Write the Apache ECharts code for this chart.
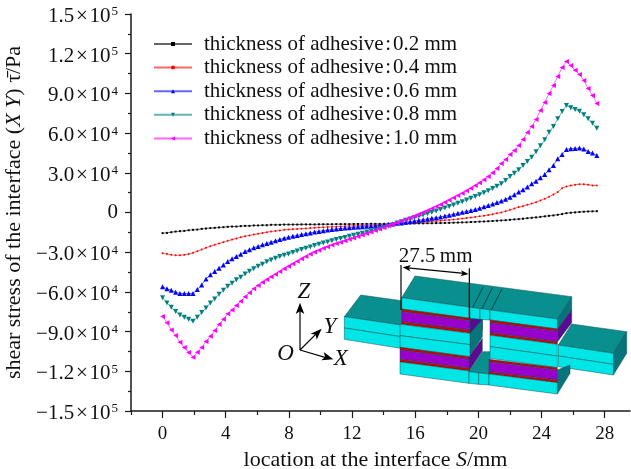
<!DOCTYPE html>
<html><head><meta charset="utf-8">
<style>html,body{margin:0;padding:0;background:#fff}#c{width:631px;height:469px}</style>
<script src="https://cdn.jsdelivr.net/npm/echarts@6/dist/echarts.min.js"></script>
</head><body><div id="c"></div>
<script>
const sampleStep = 0.275;
const t02 = [-15.6,-15.4,-14.9,-14.4,-14.1,-13.9,-13.4,-13.1,-12.9,-12.4,
 -12.1,-11.8,-11.6,-11.3,-11.1,-10.8,-10.6,-10.6,-10.3,-10.1,
 -10.1,-9.8,-9.8,-9.6,-9.6,-9.3,-9.3,-9.3,-9.1,-9.1,
 -9.1,-9.1,-9.0,-9.0,-9.0,-9.0,-8.9,-8.9,-8.9,-8.9,
 -8.8,-8.8,-8.8,-8.8,-8.7,-8.7,-8.7,-8.7,-8.6,-8.6,
 -8.6,-8.6,-8.5,-8.5,-8.5,-8.4,-8.4,-8.3,-8.3,-8.2,
 -8.2,-8.1,-8.1,-8.0,-8.0,-7.9,-7.8,-7.7,-7.6,-7.5,
 -7.4,-7.2,-7.1,-6.9,-6.8,-6.6,-6.4,-6.2,-6.0,-5.8,
 -5.5,-5.2,-5.0,-4.7,-4.3,-4.0,-3.7,-3.3,-2.9,-2.5,
 -2.2,-1.7,-1.2,-0.5,-0.2,0.1,0.4,0.6,0.8,0.9,
 1.0];
const t04 = [-30.7,-31.3,-32.0,-32.3,-32.3,-32.0,-31.3,-30.5,-29.2,-28.0,
 -26.7,-25.5,-24.4,-23.4,-22.4,-21.4,-20.4,-19.7,-18.7,-17.9,
 -17.4,-16.6,-16.1,-15.4,-14.9,-14.4,-13.9,-13.6,-13.1,-12.9,
 -12.6,-12.4,-12.2,-12.0,-11.8,-11.6,-11.4,-11.2,-11.0,-10.9,
 -10.7,-10.5,-10.4,-10.2,-10.1,-10.0,-9.8,-9.7,-9.5,-9.4,
 -9.2,-9.0,-8.8,-8.6,-8.4,-8.2,-8.0,-7.8,-7.6,-7.4,
 -7.2,-7.0,-6.7,-6.5,-6.2,-5.9,-5.6,-5.3,-5.0,-4.6,
 -4.2,-3.8,-3.4,-2.9,-2.4,-1.9,-1.3,-0.6,0.0,1.0,
 2.0,3.0,4.1,4.8,5.8,6.8,7.8,9.1,10.4,11.9,
 13.6,15.4,18.4,19.7,20.4,21.0,21.4,21.4,21.0,20.4,
 20.4];
const t06 = [-56.2,-57.7,-58.7,-60.2,-61.2,-61.2,-61.2,-61.2,-58.2,-54.7,
 -50.2,-47.1,-44.6,-42.1,-39.6,-37.0,-35.0,-33.3,-31.5,-29.5,
 -28.2,-26.7,-25.7,-24.4,-23.4,-22.4,-21.4,-20.4,-19.4,-18.7,
 -18.0,-17.3,-16.6,-16.0,-15.4,-14.8,-14.3,-13.8,-13.3,-12.9,
 -12.5,-12.1,-11.8,-11.5,-11.2,-10.9,-10.7,-10.4,-10.2,-10.0,
 -9.7,-9.4,-9.0,-8.6,-8.2,-7.9,-7.4,-6.9,-6.4,-5.9,
 -5.4,-4.9,-4.4,-3.9,-3.4,-2.6,-2.0,-1.3,-0.6,0.1,
 0.8,1.5,2.3,3.2,4.3,5.3,6.4,7.5,8.6,10.1,
 11.6,13.4,15.4,17.2,19.2,21.7,23.7,26.2,28.8,32.3,
 35.6,40.6,43.9,47.7,48.2,48.4,48.7,47.9,46.1,44.9,
 43.1];
const t08 = [-64.5,-68.3,-71.6,-74.8,-77.4,-79.1,-80.6,-82.2,-79.1,-75.6,
 -72.1,-68.3,-65.3,-61.7,-58.7,-55.7,-53.4,-50.9,-48.9,-46.4,
 -44.4,-42.6,-40.6,-39.1,-37.3,-35.8,-34.5,-33.3,-32.3,-31.3,
 -30.2,-29.1,-28.0,-27.0,-26.0,-25.0,-24.0,-23.1,-22.2,-21.3,
 -20.4,-19.6,-18.8,-18.0,-17.2,-16.4,-15.6,-14.8,-14.0,-13.2,
 -12.3,-11.4,-10.4,-9.2,-8.0,-6.9,-5.9,-4.9,-3.9,-2.9,
 -1.9,-0.9,0.2,1.2,2.3,3.4,4.5,5.7,6.9,8.1,
 9.4,10.7,12.1,13.5,15.0,16.5,18.1,19.8,21.7,24.2,
 27.2,29.7,32.3,35.5,38.6,41.8,45.9,50.4,55.0,60.7,
 65.0,70.8,76.4,80.9,79.1,77.9,76.6,73.8,70.8,67.5,
 63.7];
const t10 = [-78.6,-83.4,-88.7,-93.0,-98.0,-102.1,-105.8,-109.4,-105.6,-102.1,
 -97.5,-93.5,-89.2,-84.7,-80.7,-76.6,-73.6,-70.3,-67.1,-63.7,
 -60.7,-57.7,-55.2,-52.7,-50.7,-48.6,-46.6,-44.6,-42.6,-40.6,
 -38.7,-36.8,-35.0,-33.2,-31.4,-29.9,-28.5,-27.1,-25.9,-24.6,
 -23.5,-22.4,-21.4,-20.3,-19.3,-18.1,-17.0,-15.9,-14.7,-13.6,
 -12.5,-11.3,-10.1,-8.8,-7.7,-6.5,-5.3,-4.0,-2.6,-1.3,
 0.1,1.5,3.0,4.5,6.0,7.7,9.4,11.1,12.9,14.6,
 16.5,18.4,20.4,22.4,24.7,27.2,30.0,33.3,37.0,40.1,
 43.8,46.9,50.7,55.2,60.5,65.0,70.3,77.1,83.2,90.0,
 96.0,102.8,109.6,114.2,111.1,107.4,104.3,99.8,93.7,88.5,
 82.4];
const seriesNames = ['thickness of adhesive\u200a:\u200a0.2 mm','thickness of adhesive\u200a:\u200a0.4 mm','thickness of adhesive\u200a:\u200a0.6 mm','thickness of adhesive\u200a:\u200a0.8 mm','thickness of adhesive\u200a:\u200a1.0 mm'];
const seriesValues = [t02,t04,t06,t08,t10];
const seriesColors = ['#000000','#ff0000','#0000ff','#008080','#ff00ff'];
const xMajorTicks = [0,4,8,12,16,20,24,28];
const xMinorTicks = [-2,2,6,10,14,18,22,26];
const yTickLabels = {
 '150000':['1.5','5'],'120000':['1.2','5'],'90000':['9.0','4'],'60000':['6.0','4'],'30000':['3.0','4'],
 '0':null,'-30000':['−3.0','4'],'-60000':['−6.0','4'],'-90000':['−9.0','4'],'-120000':['−1.2','5'],'-150000':['−1.5','5']};

const FONT = '"Liberation Serif", serif';
const ink = '#1a1a1a';
const symbols = [['rect',2,0],['circle',2,0],['triangle',5,0],['triangle',5,180],['triangle',5,90]];

// Inset drawing, coordinates in a 3x working frame anchored at (270,230)
const px = p => [270 + p[0]/3, 230 + p[1]/3];
const poly = (pts, fill) => ({type:'polygon', shape:{points:pts.map(px)}, style:{fill, stroke:'#0b4f55', lineWidth:0.5}, silent:true});
const seg = (a,b,w) => { const A=px(a),B=px(b); return {type:'line', shape:{x1:A[0],y1:A[1],x2:B[0],y2:B[1]}, style:{stroke:'#000',lineWidth:w||1.2}, silent:true}; };
const head = (tip,dirx,diry,len) => { const L=Math.hypot(dirx,diry),ux=dirx/L,uy=diry/L,s=len||24,w=s*0.38;
  return {type:'polygon',shape:{points:[tip,[tip[0]-ux*s+uy*w,tip[1]-uy*s-ux*w],[tip[0]-ux*s*0.75,tip[1]-uy*s*0.75],[tip[0]-ux*s-uy*w,tip[1]-uy*s+ux*w]].map(px)},style:{fill:'#000'},silent:true}; };
const label = (txt,p,style) => { const P=px(p); return {type:'text',x:P[0],y:P[1],silent:true,style:Object.assign({text:txt,fontFamily:FONT,fontSize:20,fill:'#111',align:'center',verticalAlign:'middle'},style||{})}; };
const CY='#00e6e6', TE='#0a8f8f', SD='#07747c', PU='#9a00cc', DP='#5a0a90', RD='#cc0000';
const inset = [
 // left outer adherend
 poly([[223,260],[272,195],[395,212],[395,285]],TE),
 poly([[223,260],[392,285],[392,320],[223,294]],CY),
 poly([[223,294],[392,320],[392,355],[223,328]],CY),
 // right outer adherend
 poly([[865,345],[905,282],[1070,305],[1030,370]],TE),
 poly([[1030,370],[1070,305],[1070,370],[1030,435]],SD),
 poly([[865,345],[1030,370],[1030,403],[865,378]],CY),
 poly([[865,378],[1030,403],[1030,435],[865,410]],CY),
 // right-side faces of stacks
 poly([[862,267],[905,200],[905,240],[862,298]],SD),
 poly([[862,298],[905,240],[905,278],[862,336]],DP),
 poly([[862,420],[900,405],[900,430],[862,492]],SD),
 // bottom central piece
 poly([[597,425],[637,365],[660,365],[657,432]],TE),
 // sides of left stack facing the gap
 poly([[600,265],[637,265],[637,300],[600,345]],DP),
 poly([[600,310],[637,268],[637,320],[600,376]],SD),
 poly([[597,380],[637,325],[637,362],[597,423]],DP),
 // top face
 poly([[395,203],[435,138],[905,200],[862,267]],TE),
 // left upper stack
 poly([[395,203],[600,232],[600,265],[395,237]],CY),
 poly([[395,237],[600,265],[600,272],[395,245]],RD),
 poly([[395,245],[600,272],[600,300],[395,275]],PU),
 poly([[395,275],[600,300],[600,310],[395,283]],RD),
 poly([[390,283],[600,310],[600,344],[390,317]],CY),
 poly([[390,317],[600,344],[600,380],[390,352]],CY),
 poly([[390,352],[597,380],[597,387],[390,360]],RD),
 poly([[390,360],[597,387],[597,415],[390,388]],PU),
 poly([[390,388],[597,415],[597,423],[390,396]],RD),
 poly([[390,396],[597,423],[597,460],[390,432]],CY),
 // centre splices
 poly([[600,232],[630,236],[630,268],[600,265]],CY),
 poly([[630,236],[660,240],[660,270],[630,268]],CY),
 seg([608,232],[640,170],0.5), seg([636,236],[668,172],0.5), seg([664,240],[696,176],0.5),
 poly([[597,425],[626,429],[626,463],[597,460]],CY),
 poly([[626,429],[657,432],[657,465],[626,463]],CY),
 // right stack
 poly([[660,240],[862,267],[862,297],[660,270]],CY),
 poly([[660,270],[862,297],[862,304],[660,278]],RD),
 poly([[660,278],[862,304],[862,335],[660,308]],PU),
 poly([[660,308],[862,335],[862,343],[660,316]],RD),
 poly([[660,316],[862,343],[862,378],[660,350]],CY),
 poly([[660,350],[862,378],[862,413],[660,385]],CY),
 poly([[657,388],[862,413],[862,420],[657,395]],RD),
 poly([[657,395],[862,420],[862,450],[657,425]],PU),
 poly([[657,425],[862,450],[862,458],[657,432]],RD),
 poly([[657,432],[862,458],[862,492],[657,465]],CY),
 // dimension lines
 seg([393,105],[393,240]), seg([598,115],[598,265]), seg([405,113],[590,131]),
 head([398,112],-1,-0.1,24), head([596,132],1,0.1,24),
 label('27.5\u2009mm',[497,78],{fontSize:21}),
 // coordinate axes
 seg([90,360],[90,235]), head([90,218],0,-1,34),
 seg([90,360],[140,310]), head([155,296],1,-1,34),
 seg([90,360],[175,385]), head([190,388],1,0.3,34),
 label('Z',[102,185],{fontStyle:'italic',fontSize:23}), label('Y',[180,290],{fontStyle:'italic',fontSize:23}),
 label('X',[212,388],{fontStyle:'italic',fontSize:23}), label('O',[47,372],{fontStyle:'italic',fontSize:23})
];

const chart = echarts.init(document.getElementById('c'), null, {renderer:'canvas'});
const axisBase = {type:'value', min:-2, max:29.6, interval:2, position:'bottom', splitLine:{show:false}};
const TITLE = 22;
chart.setOption({
 animation:false,
 backgroundColor:'#fff',
 textStyle:{fontFamily:FONT},
 grid:{left:131, right:1, top:14, bottom:58, containLabel:false, outerBoundsMode:'none'},
 legend:{
  orient:'vertical', left:153, top:33.5, padding:0, itemWidth:38, itemHeight:5, itemGap:2.6,
  textStyle:{fontFamily:FONT, fontSize:21, color:'#111', padding:[0,0,0,7]}
 },
 xAxis:[
  Object.assign({}, axisBase, {
   axisLine:{onZero:false, lineStyle:{color:ink, width:1.5}},
   axisTick:{show:true, length:7, customValues:xMajorTicks, lineStyle:{color:ink, width:1.2}},
   axisLabel:{show:true, customValues:xMajorTicks, fontFamily:FONT, fontSize:19, color:'#111', margin:14},
   name:'{a|location at the interface }{i|S}{a|/mm}', nameLocation:'middle', nameGap:36,
   nameTextStyle:{padding:[0,10,0,0],rich:{a:{fontFamily:FONT,fontSize:TITLE,color:'#111'},i:{fontFamily:FONT,fontSize:TITLE,fontStyle:'italic',color:'#111'}}}
  }),
  Object.assign({}, axisBase, {
   axisLine:{show:false, onZero:false},
   axisTick:{show:true, length:4, customValues:xMinorTicks, lineStyle:{color:ink, width:1.2}},
   axisLabel:{show:false}
  })
 ],
 yAxis:{
  type:'value', min:-150000, max:150000, interval:30000, splitLine:{show:false},
  axisLine:{show:true, onZero:false, lineStyle:{color:ink, width:1.5}},
  axisTick:{show:true, length:6, lineStyle:{color:ink, width:1.2}},
  minorTick:{show:true, splitNumber:2, length:3, lineStyle:{color:ink, width:1.2}},
  minorSplitLine:{show:false},
  axisLabel:{
   margin:13, fontFamily:FONT, color:'#111', padding:[5,0,0,0],
   formatter:v=>{const k=yTickLabels[String(v)]; return k?`{b|${k[0]}\u200a×\u200a10}{s|${k[1]}}`:'{z|0}';},
   rich:{b:{fontFamily:FONT,fontSize:21,color:'#111'},
         z:{fontFamily:FONT,fontSize:21,color:'#111',padding:[0,0,5,0]},
         s:{fontFamily:FONT,fontSize:13,color:'#111',verticalAlign:'top',padding:[0,0,9,1]}}
  },
  name:'{a|shear stress of the interface (}{i|X Y}{a|) τ̄/Pa}', nameLocation:'middle', nameGap:103,
  nameTextStyle:{rich:{a:{fontFamily:FONT,fontSize:TITLE,color:'#111'},i:{fontFamily:FONT,fontSize:TITLE,fontStyle:'italic',color:'#111'}}}
 },
 series:seriesNames.map((name,k)=>({
  name, type:'line', xAxisIndex:0,
  data:seriesValues[k].map((v,i)=>[i*sampleStep, v*1000]),
  symbol:symbols[k][0], symbolSize:symbols[k][1], symbolRotate:symbols[k][2], showSymbol:true,
  lineStyle:{color:seriesColors[k], width:1, opacity:0.6},
  itemStyle:{color:seriesColors[k]}, z:2+k, clip:false
 })),
 graphic:{elements:inset}
});
</script></body></html>
